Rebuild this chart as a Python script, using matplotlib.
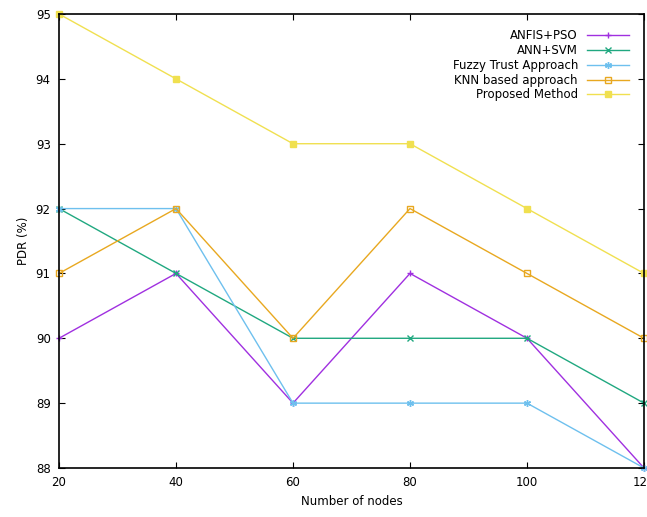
import matplotlib
matplotlib.use("Agg")
import matplotlib.pyplot as plt

nodes = [20, 40, 60, 80, 100, 120]
anfis_pso = [90, 91, 89, 91, 90, 88]
ann_svm = [92, 91, 90, 90, 90, 89]
fuzzy_trust = [92, 92, 89, 89, 89, 88]
knn_based = [91, 92, 90, 92, 91, 90]
proposed = [95, 94, 93, 93, 92, 91]

series = [
    ("ANFIS+PSO", anfis_pso, "#A030E0", "+", "full"),
    ("ANN+SVM", ann_svm, "#20A880", "x", "full"),
    ("Fuzzy Trust Approach", fuzzy_trust, "#6EC0EE", (6, 2, 0), "full"),
    ("KNN based approach", knn_based, "#E8A820", "s", "none"),
    ("Proposed Method", proposed, "#F0E050", "s", "full"),
]

fig = plt.figure(figsize=(6.47, 5.17), dpi=100)
ax = fig.add_axes([59 / 647, 1 - 468 / 517, 585 / 647, 454 / 517])

for label, vals, col, mk, fill in series:
    ax.plot(nodes, vals, color=col, marker=mk, markersize=5, fillstyle=fill,
            markeredgewidth=1.0, linewidth=1.0, label=label, clip_on=False)

ax.set_xlim(20, 120)
ax.set_ylim(88, 95)
ax.set_xticks(nodes)
ax.set_xticklabels(["20", "40", "60", "80", "100", "120"])
ax.set_yticks(range(88, 96))
ax.tick_params(direction="in", top=True, right=True, labelsize=8.5, length=4, pad=6)
for s in ax.spines.values():
    s.set_linewidth(1.2)
ax.set_xlabel("Number of nodes", fontsize=8.5)
ax.set_ylabel("PDR (%)", fontsize=8.5)

leg = ax.legend(loc="upper right", frameon=False, markerfirst=False, fontsize=8.5,
                handlelength=3.5, labelspacing=0.15, borderaxespad=0.9)
for t in leg.get_texts():
    t.set_ha("right")

fig.savefig("out.png", dpi=100)
